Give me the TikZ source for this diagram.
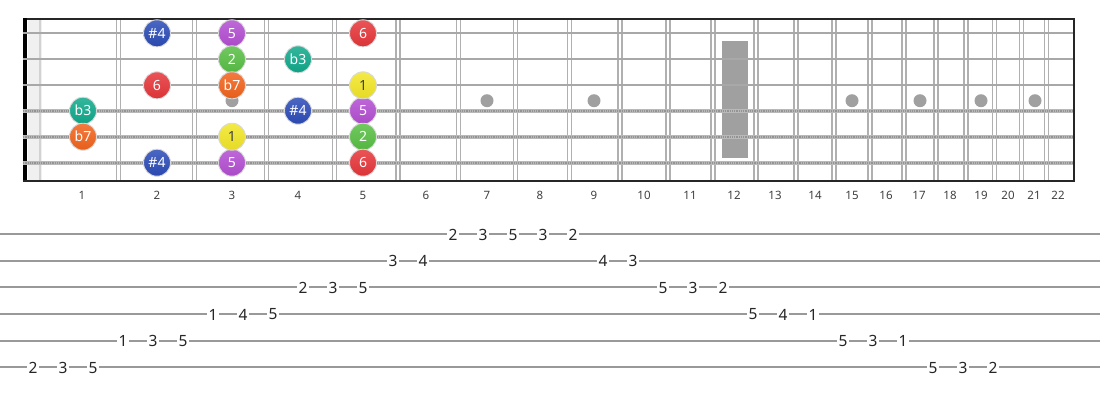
\documentclass[tikz,border=0pt]{standalone}
\usepackage{fontspec}
\setmainfont{Noto Sans}
\definecolor{cblue}{HTML}{2C4CB8}
\definecolor{cpurple}{HTML}{B34ED2}
\definecolor{cred}{HTML}{E6363A}
\definecolor{cgreen}{HTML}{58BF44}
\definecolor{cteal}{HTML}{10A98B}
\definecolor{corange}{HTML}{F2631C}
\definecolor{cyellow}{HTML}{F2E627}
\definecolor{fretgray}{HTML}{B0B0B0}
\definecolor{strgray}{HTML}{A8A8A8}
\definecolor{inlay}{HTML}{A0A0A0}
\tikzset{
  note/.style={circle, minimum size=27pt, inner sep=0pt, draw=white!85!black, line width=0.9pt,
    top color=#1!85!white, bottom color=#1!95!black, font=\fontsize{14}{14}\selectfont, text=white},
  fretnum/.style={font=\fontsize{11.5}{11.5}\selectfont, text=black!75, inner sep=0pt},
  tabnum/.style={font=\fontsize{15.5}{16}\selectfont, text=black!85, fill=white, inner xsep=1.2pt, inner ysep=0pt},
  fretline/.style={draw=fretgray, line width=1.4pt},
  plainstr/.style={draw=strgray, line width=2.3pt},
  woundstr/.style={draw=gray!55, line width=4.2pt},
  woundtex/.style={draw=gray!85, line width=2.2pt, dash pattern=on 0.9pt off 0.9pt},
  tabline/.style={draw=black!40, line width=1.8pt},
  inlaydot/.style={circle, fill=inlay, minimum size=13pt, inner sep=0pt}
}
\begin{document}
\begin{tikzpicture}[x=1pt,y=-1pt]
\useasboundingbox (0,0) rectangle (1100,400);
\fill[white] (0,0) rectangle (1100,400);
% nut area
\fill[gray!12] (28,20) rectangle (42,180);
\draw[gray!35, line width=2pt] (39.5,20) -- (39.5,180);
% frets (double lines)
\foreach \n in {1,...,21}{
  \pgfmathsetmacro{\fx}{38.5+1435*(1-pow(2,-\n/12))}
  \draw[fretline] (\fx-2,20) -- (\fx-2,180);
  \draw[fretline] (\fx+2,20) -- (\fx+2,180);
}
% inlays
\fill[inlay] (722,40.7) rectangle (748,157.7);
\foreach \x/\nm in {232/d3,363/d5,487/d7,594/d9,852/d15,920/d17,981/d19,1035/d21}{
  \node[inlaydot] (\nm) at (\x,100.7) {};
}
% left black bar and borders
\fill[black] (22.7,18) rectangle (27.3,182);
\draw[black!85, line width=1.8pt] (27,19) -- (1074,19);
\draw[black!85, line width=1.8pt] (22.7,181) -- (1074,181);
\draw[black!85, line width=2.2pt] (1074,18) -- (1074,182);
% strings
\foreach \y in {33.3,59.3,85.3}{
  \draw[plainstr] (22.7,\y) -- (1073,\y);
}
\foreach \y in {110.7,136.7,162.7}{
  \draw[woundstr] (22.7,\y) -- (1073,\y);
  \draw[woundtex] (22.7,\y) -- (1073,\y);
}
% fret numbers
\foreach \x [count=\i] in {82,157,232,298,363,426,487,540,594,644,690,734,775,815,852,886,919,950,981,1008,1034,1058}{
  \node[fretnum] (f\i) at (\x,195) {\i};
}
% notes
\foreach \x/\y/\c/\t/\nm in {
  157/33.3/cblue/\#4/s1a, 232/33.3/cpurple/5/s1b, 363/33.3/cred/6/s1c,
  232/59.3/cgreen/2/s2a, 298/59.3/cteal/b3/s2b,
  157/85.3/cred/6/s3a, 232/85.3/corange/b7/s3b,
  83/110.7/cteal/b3/s4a, 298/110.7/cblue/\#4/s4b, 363/110.7/cpurple/5/s4c,
  83/136.7/corange/b7/s5a, 363/136.7/cgreen/2/s5c,
  157/162.7/cblue/\#4/s6a, 232/162.7/cpurple/5/s6b, 363/162.7/cred/6/s6c}{
  \node[note=\c] (\nm) at (\x,\y) {\t};
}
\node[note=cyellow, text=black!75] (s3c) at (363,85.3) {1};
\node[note=cyellow, text=black!75] (s5b) at (232,136.7) {1};
% tab lines
\foreach \y [count=\i] in {234.3,260.7,287.3,314,340.7,367.3}{
  \draw[tabline] (0,\y) -- (1100,\y);
}
% tab numbers
\foreach \x/\t [count=\i] in {453/2,483/3,513/5,543/3,573/2}{
  \node[tabnum] (ta\i) at (\x,234.8) {\t};
}
\foreach \x/\t [count=\i] in {393/3,423/4,603/4,633/3}{
  \node[tabnum] (tb\i) at (\x,261.2) {\t};
}
\foreach \x/\t [count=\i] in {303/2,333/3,363/5,663/5,693/3,723/2}{
  \node[tabnum] (tc\i) at (\x,287.8) {\t};
}
\foreach \x/\t [count=\i] in {213/1,243/4,273/5,753/5,783/4,813/1}{
  \node[tabnum] (td\i) at (\x,314.5) {\t};
}
\foreach \x/\t [count=\i] in {123/1,153/3,183/5,843/5,873/3,903/1}{
  \node[tabnum] (te\i) at (\x,341.2) {\t};
}
\foreach \x/\t [count=\i] in {33/2,63/3,93/5,933/5,963/3,993/2}{
  \node[tabnum] (tf\i) at (\x,367.8) {\t};
}
\end{tikzpicture}
\end{document}
